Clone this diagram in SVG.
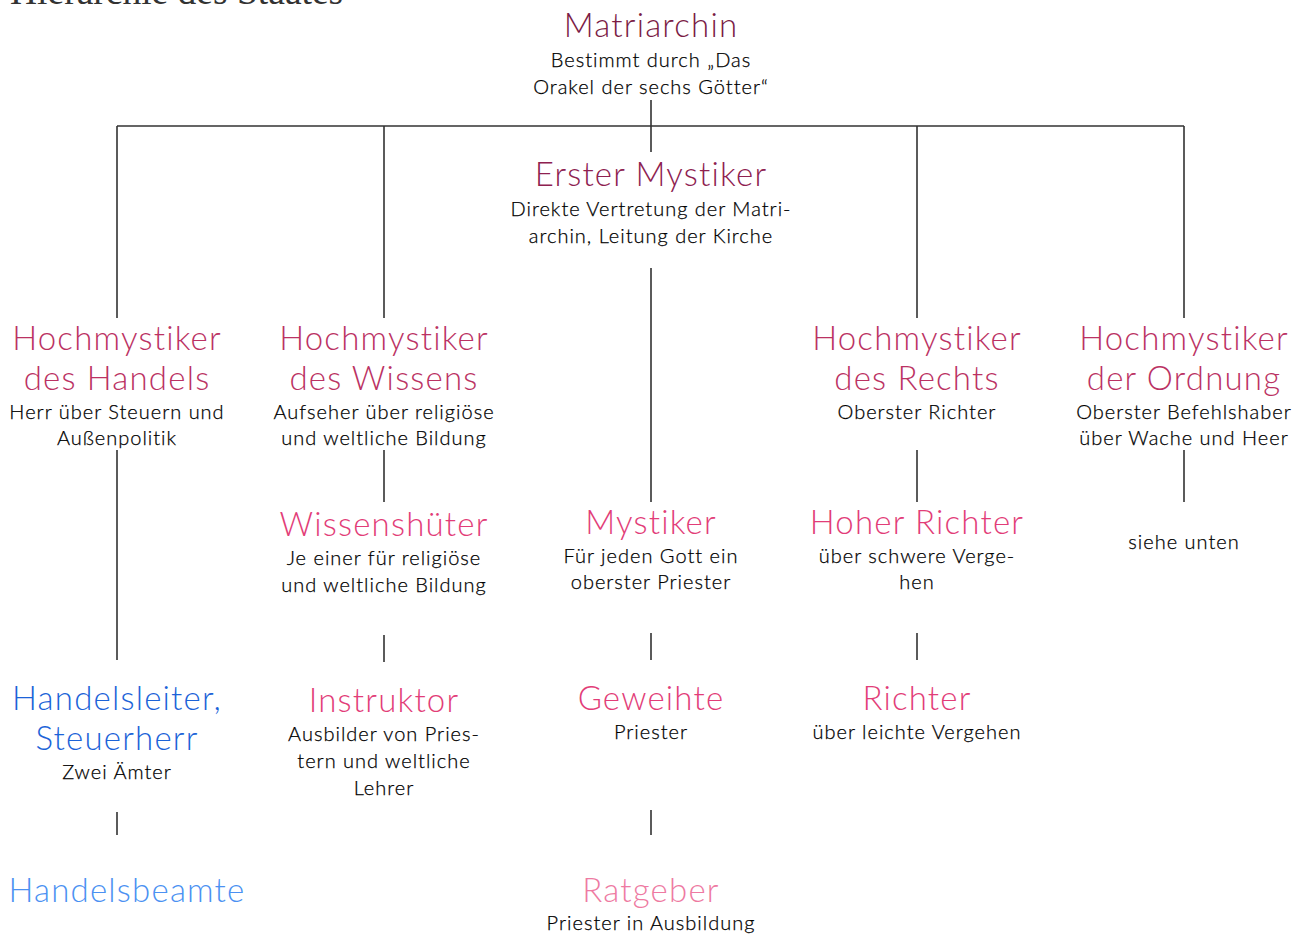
<svg xmlns="http://www.w3.org/2000/svg" width="1305" height="936" viewBox="0 0 1305 936">
<style>
.t{font-family:Lato,"Open Sans",sans-serif;font-weight:300;font-size:33px;letter-spacing:1.2px;text-anchor:middle}
.s{font-family:Lato,"Open Sans",sans-serif;font-weight:300;font-size:20px;letter-spacing:1px;text-anchor:middle;fill:#000;stroke:#000;stroke-width:0.25}
.c1{fill:#7b1c45}.c2{fill:#8e2150}.c3{fill:#bb3263}.c4{fill:#e23d78}.c5{fill:#ee7aa2}
.b1{fill:#1c63d8}.b2{fill:#4b91f2}
.ln{stroke:#333;stroke-width:1.6;fill:none}
</style>
<rect width="1305" height="936" fill="#fff"/>
<text x="10" y="4" font-family="Liberation Serif,serif" font-size="37.5" fill="#333">Hierarchie des Staates</text>
<g id="connectors" class="ln">
<path d="M117 126H1184M651 100V152M117 126V318M384 126V318M917 126V318M1184 126V318"/>
<path d="M651 268V502M117 450V660M384 450V502M917 450V502M1184 450V502"/>
<path d="M384 635V662M651 633V660M917 633V660M117 812V835M651 810V835"/>
</g>
<g id="matriarchin"><text class="t c1" x="651" y="37">Matriarchin</text><text class="s" x="651" y="67">Bestimmt durch „Das</text><text class="s" x="651" y="94">Orakel der sechs Götter“</text></g>
<g id="erster-mystiker"><text class="t c2" x="651" y="186">Erster Mystiker</text><text class="s" x="651" y="216">Direkte Vertretung der Matri-</text><text class="s" x="651" y="243">archin, Leitung der Kirche</text></g>
<g id="hm-handel"><text class="t c3" x="117" y="350">Hochmystiker</text><text class="t c3" x="117" y="390">des Handels</text><text class="s" x="117" y="419">Herr über Steuern und</text><text class="s" x="117" y="445">Außenpolitik</text></g>
<g id="hm-wissen"><text class="t c3" x="384" y="350">Hochmystiker</text><text class="t c3" x="384" y="390">des Wissens</text><text class="s" x="384" y="419">Aufseher über religiöse</text><text class="s" x="384" y="445">und weltliche Bildung</text></g>
<g id="hm-recht"><text class="t c3" x="917" y="350">Hochmystiker</text><text class="t c3" x="917" y="390">des Rechts</text><text class="s" x="917" y="419">Oberster Richter</text></g>
<g id="hm-ordnung"><text class="t c3" x="1184" y="350">Hochmystiker</text><text class="t c3" x="1184" y="390">der Ordnung</text><text class="s" x="1184" y="419">Oberster Befehlshaber</text><text class="s" x="1184" y="445">über Wache und Heer</text></g>
<g id="wissenshueter"><text class="t c4" x="384" y="536">Wissenshüter</text><text class="s" x="384" y="565">Je einer für religiöse</text><text class="s" x="384" y="592">und weltliche Bildung</text></g>
<g id="mystiker"><text class="t c4" x="651" y="534">Mystiker</text><text class="s" x="651" y="563">Für jeden Gott ein</text><text class="s" x="651" y="589">oberster Priester</text></g>
<g id="hoher-richter"><text class="t c4" x="917" y="534">Hoher Richter</text><text class="s" x="917" y="563">über schwere Verge-</text><text class="s" x="917" y="589">hen</text></g>
<g id="siehe-unten"><text class="s" x="1184" y="549">siehe unten</text></g>
<g id="handelsleiter"><text class="t b1" x="117" y="710">Handelsleiter,</text><text class="t b1" x="117" y="750">Steuerherr</text><text class="s" x="117" y="779">Zwei Ämter</text></g>
<g id="instruktor"><text class="t c4" x="384" y="712">Instruktor</text><text class="s" x="384" y="741">Ausbilder von Pries-</text><text class="s" x="384" y="768">tern und weltliche</text><text class="s" x="384" y="795">Lehrer</text></g>
<g id="geweihte"><text class="t c4" x="651" y="710">Geweihte</text><text class="s" x="651" y="739">Priester</text></g>
<g id="richter"><text class="t c4" x="917" y="710">Richter</text><text class="s" x="917" y="739">über leichte Vergehen</text></g>
<g id="handelsbeamte"><text class="t b2" x="127" y="902">Handelsbeamte</text></g>
<g id="ratgeber"><text class="t c5" x="651" y="902">Ratgeber</text><text class="s" x="651" y="930">Priester in Ausbildung</text></g>
</svg>
